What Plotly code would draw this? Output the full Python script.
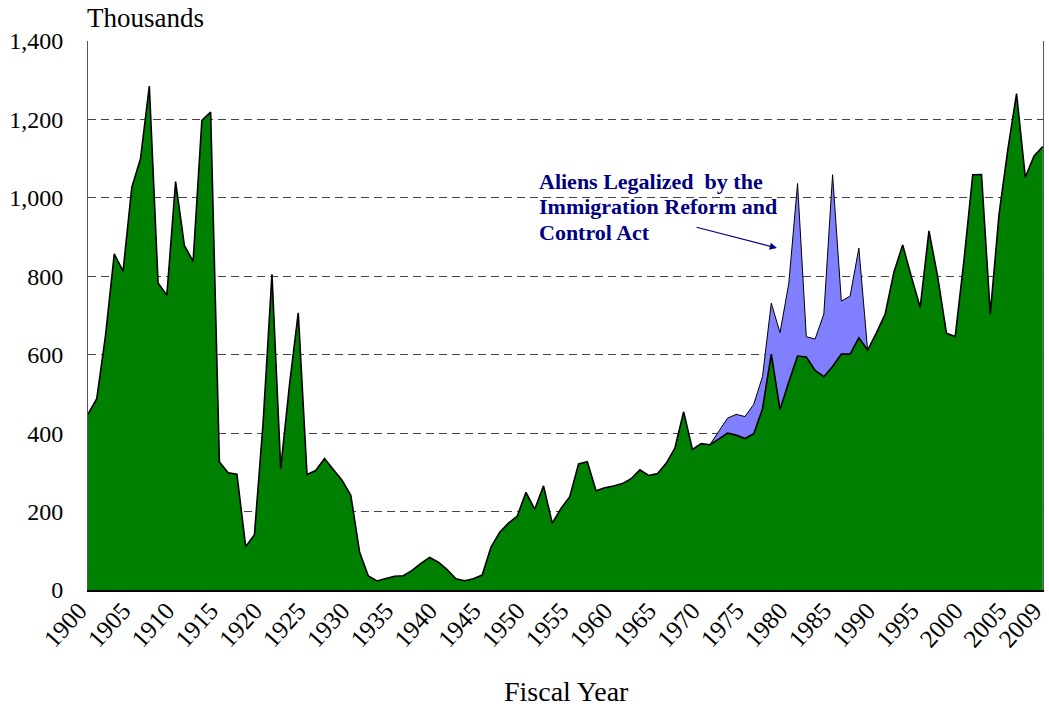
import plotly.graph_objects as go

# ---- data (thousands) ----
years = list(range(1900, 2010))
lpr = [448.6, 487.9, 648.7, 857.0, 812.9, 1026.5, 1100.7, 1285.3, 782.9, 751.8,
       1041.6, 878.6, 838.2, 1197.9, 1218.5, 326.7, 298.8, 295.4, 110.6, 141.1,
       430.0, 805.2, 309.6, 522.9, 706.9, 294.3, 304.5, 335.2, 307.3, 279.7,
       241.7, 97.1, 35.6, 23.1, 29.5, 35.0, 36.3, 50.2, 67.9, 83.0,
       70.8, 51.8, 28.8, 23.7, 28.6, 38.1, 108.7, 147.3, 170.6, 188.3,
       249.2, 205.7, 265.5, 170.4, 208.2, 237.8, 321.6, 326.9, 253.3, 260.7,
       265.4, 271.3, 283.8, 306.3, 292.2, 296.7, 323.0, 362.0, 454.4, 358.6,
       373.3, 370.5, 384.7, 400.1, 394.9, 386.2, 398.6, 462.3, 601.4, 460.3,
       530.6, 596.6, 594.1, 559.8, 543.9, 570.0, 601.7, 601.5, 643.0, 611.4,
       655.5, 703.4, 810.6, 880.0, 798.4, 720.5, 915.9, 798.4, 654.5, 646.6,
       841.0, 1058.9, 1059.4, 703.5, 957.9, 1122.3, 1266.1, 1052.4, 1107.1, 1130.8]

irca_years = list(range(1971, 1990))
irca_legalized = [0, 20, 38, 53, 56, 75, 82, 130, 196, 251,
                  440, 52, 80, 160, 489, 135, 148, 229, 0]

tick_years = [1900, 1905, 1910, 1915, 1920, 1925, 1930, 1935, 1940, 1945, 1950,
              1955, 1960, 1965, 1970, 1975, 1980, 1985, 1990, 1995, 2000, 2005, 2009]
y_ticks = [0, 200, 400, 600, 800, 1000, 1200, 1400]

annotation_lines = ["Aliens Legalized  by the", "Immigration Reform and", "Control Act"]

lpr_by_year = dict(zip(years, lpr))
irca_total = [lpr_by_year[y] + v for y, v in zip(irca_years, irca_legalized)]

FONT = "Liberation Serif, Times New Roman, serif"

# plot area on screen: x 88..1043, y 41..590 (body margin removed below)
W, H = 1049, 709
L, R, T, B = 88, 6, 41, 119
PW, PH = W - L - R, H - T - B


def px_x(px):
    return (px - L) / PW


def px_y(py):
    return (T + PH - py) / PH


fig = go.Figure()
fig.add_trace(go.Scatter(
    x=irca_years, y=irca_total, mode="lines", fill="tozeroy",
    fillcolor="#8080FF", line=dict(color="black", width=1),
    showlegend=False, hoverinfo="skip"))
fig.add_trace(go.Scatter(
    x=years, y=lpr, mode="lines", fill="tozeroy",
    fillcolor="#008000", line=dict(color="black", width=1.6),
    showlegend=False, hoverinfo="skip"))

fig.update_layout(
    width=W, height=H,
    margin=dict(l=L, r=R, t=T, b=B, autoexpand=False),
    paper_bgcolor="white", plot_bgcolor="white",
    font=dict(family=FONT, color="black", size=24),
    xaxis=dict(range=[1900, 2009.02], tickmode="array", tickvals=tick_years,
               ticktext=[str(t) for t in tick_years], tickangle=-48,
               showgrid=False, zeroline=False, showline=True, automargin=False,
               linecolor="black", linewidth=2, ticks="",
               ticklabeloverflow="allow",
               ticklabelstandoff=-6, ticklabelshift=-9,
               tickfont=dict(size=25)),
    yaxis=dict(range=[0, 1400], tickmode="array", tickvals=y_ticks,
               ticktext=[f"{v:,}" for v in y_ticks], automargin=False,
               showgrid=True, gridcolor="#444444", gridwidth=1,
               griddash="8px,5px", zeroline=False, showline=True,
               mirror=True, linecolor="#555555", linewidth=1, ticks="",
               ticklabeloverflow="allow",
               ticklabelstandoff=19, tickfont=dict(size=24)),
)

fig.add_annotation(text="Thousands", xref="paper", yref="paper",
                   x=0, y=px_y(18), xanchor="left", yanchor="middle", xshift=-3,
                   showarrow=False, font=dict(size=27, family=FONT))
fig.add_annotation(text="Fiscal Year", xref="paper", yref="paper",
                   x=px_x(566), y=px_y(691), xanchor="center", yanchor="middle",
                   showarrow=False, font=dict(size=28, family=FONT))
for i, line in enumerate(annotation_lines):
    fig.add_annotation(text=f"<b>{line}</b>", xref="paper", yref="paper",
                       x=px_x(537), y=px_y(181 + 25.5 * i),
                       xanchor="left", yanchor="middle", align="left",
                       showarrow=False,
                       font=dict(size=22, family=FONT, color="#000080"))
fig.add_annotation(text="", xref="x", yref="y", x=1978.65, y=872,
                   axref="x", ayref="y", ax=1969.3, ay=926,
                   showarrow=True, arrowhead=2, arrowsize=1.2, arrowwidth=1.2,
                   arrowcolor="#000080")

fig.write_html("out.html",
               config={"displayModeBar": False},
               post_script="document.body.style.margin='0';"
                           "document.body.style.overflow='hidden';")
